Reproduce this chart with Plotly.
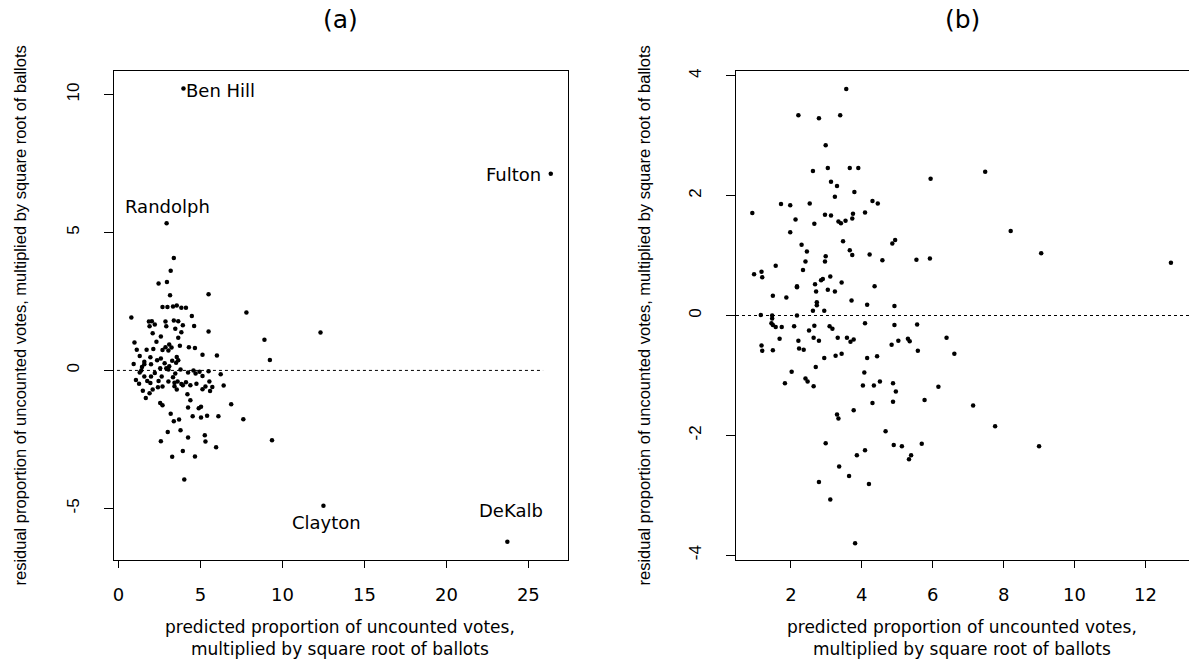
import plotly.graph_objects as go

# ---------------- data: panel (a) ----------------
xa = [3.37,3.18,2.44,2.95,5.49,3.14,7.80,0.78,2.68,2.98,3.32,3.55,3.83,4.11,4.47,1.85,2.03,2.86,3.37,3.64,
      2.21,1.89,2.91,3.92,4.61,3.46,5.49,12.32,2.08,3.83,2.58,3.64,8.90,0.97,2.31,3.09,2.86,3.23,3.74,4.29,
      4.66,1.11,1.71,2.12,2.68,3.04,5.12,6.00,1.29,1.94,2.58,3.55,2.35,9.23,3.27,3.64,3.51,1.57,0.92,2.81,
      3.09,1.57,1.98,1.43,2.54,2.91,1.38,3.04,3.78,4.57,4.94,5.49,1.29,2.21,3.46,4.24,4.70,1.57,1.98,2.63,
      3.32,5.12,6.23,1.06,1.75,2.44,3.04,3.60,4.11,1.25,1.94,3.41,3.83,4.75,4.38,5.54,6.41,2.40,2.68,3.41,
      3.92,5.30,5.72,1.48,2.08,3.55,5.12,5.58,1.89,4.20,1.66,4.38,2.54,2.68,6.87,4.24,4.89,5.03,3.18,4.52,
      5.03,5.40,6.09,3.69,3.37,7.61,3.00,3.78,4.24,5.26,5.30,2.58,9.36,5.95,3.92,3.27,4.66,4.01]
ya = [4.07,3.61,3.15,3.20,2.76,2.72,2.10,1.92,2.30,2.30,2.32,2.35,2.27,2.27,1.97,1.77,1.78,1.77,1.81,1.78,
      1.66,1.60,1.60,1.64,1.61,1.51,1.41,1.37,1.35,1.38,1.23,1.18,1.11,1.01,1.04,0.94,0.84,0.83,0.89,0.84,
      0.81,0.75,0.75,0.78,0.74,0.72,0.57,0.54,0.52,0.48,0.43,0.49,0.37,0.38,0.35,0.37,0.28,0.31,0.23,0.26,
      0.15,0.22,0.22,0.12,0.08,0.08,0.00,0.03,0.03,0.00,-0.05,-0.03,-0.08,-0.09,-0.11,-0.08,-0.11,-0.22,-0.22,-0.22,
      -0.25,-0.20,-0.14,-0.35,-0.38,-0.38,-0.40,-0.40,-0.43,-0.48,-0.46,-0.45,-0.49,-0.48,-0.54,-0.40,-0.55,-0.61,-0.58,-0.57,
      -0.54,-0.58,-0.60,-0.74,-0.69,-0.69,-0.68,-0.75,-0.83,-0.86,-1.00,-1.08,-1.18,-1.26,-1.23,-1.34,-1.37,-1.32,-1.57,-1.66,
      -1.71,-1.64,-1.66,-1.78,-1.84,-1.77,-2.23,-2.17,-2.43,-2.35,-2.58,-2.57,-2.53,-2.78,-2.92,-3.13,-3.12,-3.95]

# labelled counties in panel (a)
county_names = ["Ben Hill", "Randolph", "Fulton", "Clayton", "DeKalb"]
county_x = [3.96, 2.93, 26.37, 12.50, 23.72]
county_y = [10.22, 5.33, 7.13, -4.90, -6.21]

# ---------------- data: panel (b) ----------------
xb = [3.56,2.21,2.79,3.39,2.98,2.62,3.04,3.66,3.90,7.48,5.94,3.13,3.30,3.79,3.24,4.30,4.45,1.72,1.98,2.53,
      4.09,0.91,2.96,3.13,3.75,3.73,2.13,3.34,3.41,3.54,2.66,1.98,8.20,2.30,3.47,2.45,4.94,4.86,3.66,3.73,
      4.22,9.06,5.54,5.92,4.58,12.72,1.57,2.41,2.98,2.96,2.34,1.17,0.96,1.19,3.11,2.90,3.43,2.85,2.68,2.17,
      2.17,4.36,3.04,2.71,3.24,1.49,1.87,3.71,2.73,2.73,4.15,4.92,2.62,2.94,1.15,1.47,2.17,1.47,1.45,1.49,
      1.74,1.57,2.09,2.66,4.09,4.92,5.56,3.09,3.17,2.51,2.64,1.68,3.32,3.58,3.77,3.68,2.21,2.79,5.03,5.30,
      5.35,4.84,6.39,1.17,1.19,1.49,2.23,2.36,5.58,6.61,3.26,3.43,4.15,4.43,2.94,2.70,2.02,4.07,2.41,2.47,
      1.83,2.64,4.03,4.34,4.51,4.88,4.96,6.16,4.30,4.88,5.77,7.14,3.77,3.30,3.34,7.76,4.67,2.98,4.90,5.13,
      5.69,9.00,4.09,3.86,5.39,5.33,3.36,3.64,2.79,4.20,3.11,3.81]
yb = [3.78,3.34,3.29,3.34,2.84,2.41,2.46,2.46,2.46,2.40,2.28,2.23,2.16,2.06,1.98,1.91,1.87,1.86,1.84,1.87,
      1.72,1.71,1.68,1.67,1.70,1.62,1.60,1.57,1.54,1.58,1.53,1.39,1.41,1.18,1.24,1.07,1.26,1.20,1.09,1.01,
      1.02,1.04,0.93,0.95,0.92,0.88,0.83,0.90,0.99,0.90,0.76,0.73,0.69,0.64,0.65,0.61,0.55,0.59,0.52,0.49,
      0.47,0.49,0.43,0.40,0.40,0.33,0.30,0.25,0.22,0.17,0.18,0.16,0.08,0.08,0.01,0.00,0.00,-0.05,-0.13,-0.16,
      -0.19,-0.19,-0.18,-0.17,-0.13,-0.16,-0.15,-0.18,-0.22,-0.25,-0.37,-0.39,-0.37,-0.37,-0.40,-0.44,-0.42,-0.42,-0.42,-0.39,
      -0.43,-0.49,-0.37,-0.50,-0.59,-0.58,-0.55,-0.57,-0.59,-0.64,-0.67,-0.64,-0.71,-0.68,-0.71,-0.86,-0.94,-0.95,-1.05,-1.10,
      -1.13,-1.18,-1.17,-1.17,-1.10,-1.13,-1.27,-1.19,-1.46,-1.44,-1.41,-1.50,-1.58,-1.65,-1.72,-1.85,-1.93,-2.13,-2.16,-2.18,
      -2.14,-2.18,-2.25,-2.33,-2.33,-2.40,-2.52,-2.68,-2.78,-2.81,-3.07,-3.80]

# axis ticks
xa_ticks = [0, 5, 10, 15, 20, 25]
ya_ticks = [-5, 0, 5, 10]
xb_ticks = [2, 4, 6, 8, 10, 12]
yb_ticks = [-4, -2, 0, 2, 4]

panel_titles = ["(a)", "(b)"]
x_title = "predicted proportion of uncounted votes,<br>multiplied by square root of ballots"
y_title = "residual proportion of uncounted votes, multiplied by square root of ballots"

# ---------------- figure ----------------
W, H = 1189, 660
FONT_V = "Liberation Sans, Arial, Helvetica, sans-serif"   # vertical (rotated) texts
FONT_H = "DejaVu Sans, Liberation Sans, Arial, sans-serif"  # horizontal texts (wider, as in reference)
INK = "#000000"

fig = go.Figure()
mk = dict(color=INK, size=4.5, line=dict(width=0))
fig.add_trace(go.Scatter(x=xa, y=ya, mode="markers", marker=mk, xaxis="x", yaxis="y", hoverinfo="skip"))
fig.add_trace(go.Scatter(x=county_x, y=county_y, mode="markers", marker=mk, xaxis="x", yaxis="y", hoverinfo="skip"))
fig.add_trace(go.Scatter(x=xb, y=yb, mode="markers", marker=mk, xaxis="x2", yaxis="y2", hoverinfo="skip"))

def px_x(p):
    return p / W

def px_y(p):
    return 1 - p / H

dom_a = [px_x(113.5), px_x(567.5)]
dom_b = [px_x(736.0), 1.0]
dom_y = [px_y(560.0), px_y(71.0)]

tickfont_x = dict(family=FONT_H, size=18, color=INK)
tickfont_y = dict(family=FONT_V, size=17, color=INK)

common_x = dict(showgrid=False, zeroline=False, showline=True, linecolor=INK, linewidth=1,
                ticks="outside", ticklen=7, tickwidth=1, tickcolor=INK, tickfont=tickfont_x,
                ticklabelstandoff=11, fixedrange=True, automargin=False)
common_y = dict(showgrid=False, zeroline=False, showline=True, linecolor=INK, linewidth=1,
                ticks="outside", ticklen=9, tickwidth=1, tickcolor=INK, tickfont=tickfont_y,
                tickangle=-90, ticklabelstandoff=18, fixedrange=True, automargin=False)

fig.update_layout(
    width=W, height=H,
    margin=dict(l=0, r=0, t=0, b=0, pad=0),
    paper_bgcolor="white", plot_bgcolor="white",
    showlegend=False,
    xaxis=dict(domain=dom_a, range=[-0.31, 27.39], anchor="y", mirror=True,
               tickvals=xa_ticks, ticktext=[str(v) for v in xa_ticks], **common_x),
    yaxis=dict(domain=dom_y, range=[-6.87, 10.85], anchor="x", mirror=True,
               tickvals=ya_ticks, ticktext=[str(v) for v in ya_ticks], **common_y),
    xaxis2=dict(domain=dom_b, range=[0.45, 13.23], anchor="y2", mirror=True,
                tickvals=xb_ticks, ticktext=[str(v) for v in xb_ticks], **common_x),
    yaxis2=dict(domain=dom_y, range=[-4.08, 4.08], anchor="x2", mirror=False,
                tickvals=yb_ticks, ticktext=[str(v) for v in yb_ticks], **common_y),
)

# zero reference lines (dotted)
fig.add_shape(type="line", xref="x", yref="y", x0=-0.1, x1=25.9, y0=0, y1=0,
              line=dict(color=INK, width=1, dash="dot"))
fig.add_shape(type="line", xref="x2 domain", yref="y2", x0=0, x1=1, y0=0, y1=0,
              line=dict(color=INK, width=1, dash="dot"))

# county labels
label_style = [
    dict(xanchor="left", xshift=2, yshift=-2),
    dict(xanchor="center", xshift=1, yshift=17),
    dict(xanchor="right", xshift=-9, yshift=-1),
    dict(xanchor="center", xshift=3, yshift=-17),
    dict(xanchor="center", xshift=4, yshift=31),
]
for name, cx, cy, st in zip(county_names, county_x, county_y, label_style):
    fig.add_annotation(x=cx, y=cy, xref="x", yref="y", text=name, showarrow=False,
                       yanchor="middle", borderpad=0, font=dict(family=FONT_H, size=18, color=INK), **st)

# panel titles, axis titles
centers = [340, 962]
ytitle_x = [19, 643]
for t, cx, yx in zip(panel_titles, centers, ytitle_x):
    fig.add_annotation(x=px_x(cx), y=px_y(19), xref="paper", yref="paper", text=t, showarrow=False,
                       xanchor="center", yanchor="middle", borderpad=0,
                       font=dict(family=FONT_H, size=25, color=INK))
    fig.add_annotation(x=px_x(cx), y=px_y(638), xref="paper", yref="paper", text=x_title,
                       showarrow=False, xanchor="center", yanchor="middle", align="center", borderpad=0,
                       font=dict(family=FONT_H, size=17, color=INK))
    fig.add_annotation(x=px_x(yx), y=px_y(315.5), xref="paper", yref="paper", text=y_title, showarrow=False,
                       textangle=-90, xanchor="center", yanchor="middle", borderpad=0,
                       font=dict(family=FONT_V, size=16.5, color=INK))

# remove the browser's default page margin so the figure sits at the window origin
fig.write_html("out.html", config={"displayModeBar": False},
               post_script="document.body.style.margin='0';document.body.style.overflow='hidden';")
